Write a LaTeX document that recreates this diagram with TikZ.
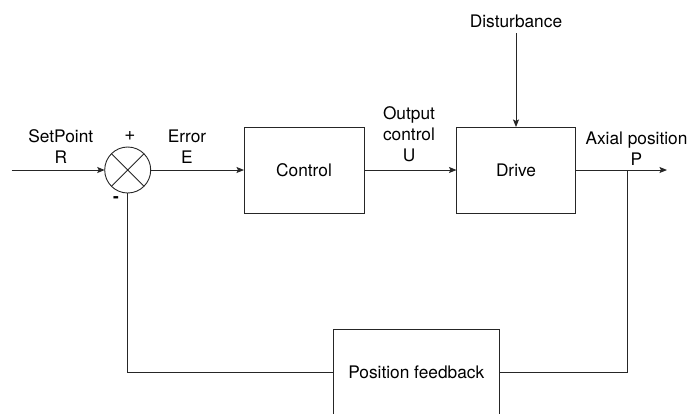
\documentclass[tikz,border=0pt]{standalone}
\usepackage{fontspec}
\setmainfont{TeX Gyre Heros}
\usetikzlibrary{arrows.meta}

\begin{document}
\begin{tikzpicture}[x=1pt,y=-1pt,line width=0.9pt,color=black!85]

\tikzset{
    blk/.style args={#1and#2}{
        draw,
        rectangle,
        minimum width=#1,
        minimum height=#2,
        inner sep=0pt,
        outer sep=0pt,
    },
    sumpt/.style={
        draw,
        circle,
        minimum size=46pt,
        inner sep=0pt,
        outer sep=0pt,
    },
    lbl/.style={
        align=center,
        inner sep=0pt,
    },
    every node/.append style={font=\fontsize{17.3}{21}\selectfont,text=black},
    >={Stealth[length=7.5pt,width=6pt,inset=1.5pt]}
}

\useasboundingbox (0,0) rectangle (690,413);

% summing junction
\node(sum) [sumpt] at (127.7,170) {};
\draw (sum.north west) -- (sum.south east)
      (sum.north east) -- (sum.south west);

\node(ctrl) [blk=120pt and 86pt] at (304,170) {Control};
\node(drive) [blk=119pt and 86pt] at (516,170) {Drive};
\node(fb) [blk=166pt and 86pt] at (416.3,372.3) {Position feedback};

\node(dist) [lbl,outer sep=6pt] at (516,21) {Disturbance};

\coordinate(in) at (11.7,170);
\coordinate(out) at (667,170);
\coordinate(tap) at (627.5,170);

\draw[->] (in) -- (sum);
\draw[->] (sum) -- (ctrl);
\draw[->] (ctrl) -- (drive);
\draw[->] (drive) -- (out);
\draw[->] (dist) -- (drive);

% feedback loop
\draw (tap) |- (fb);
\draw (fb) -| (sum);

\node(r) [lbl] at (60.8,147) {SetPoint\\R};
\node(e) [lbl] at (187,147) {Error\\E};
\node(u) [lbl] at (409,134.5) {Output\\control\\U};
\node(p) [lbl] at (636.5,148.5) {Axial position\\P};
\node(plus) [lbl] at (130,136) {\fontsize{19}{21}\selectfont +};
\node(minus) [lbl] at (116,200) {\bfseries -};

\end{tikzpicture}
\end{document}
